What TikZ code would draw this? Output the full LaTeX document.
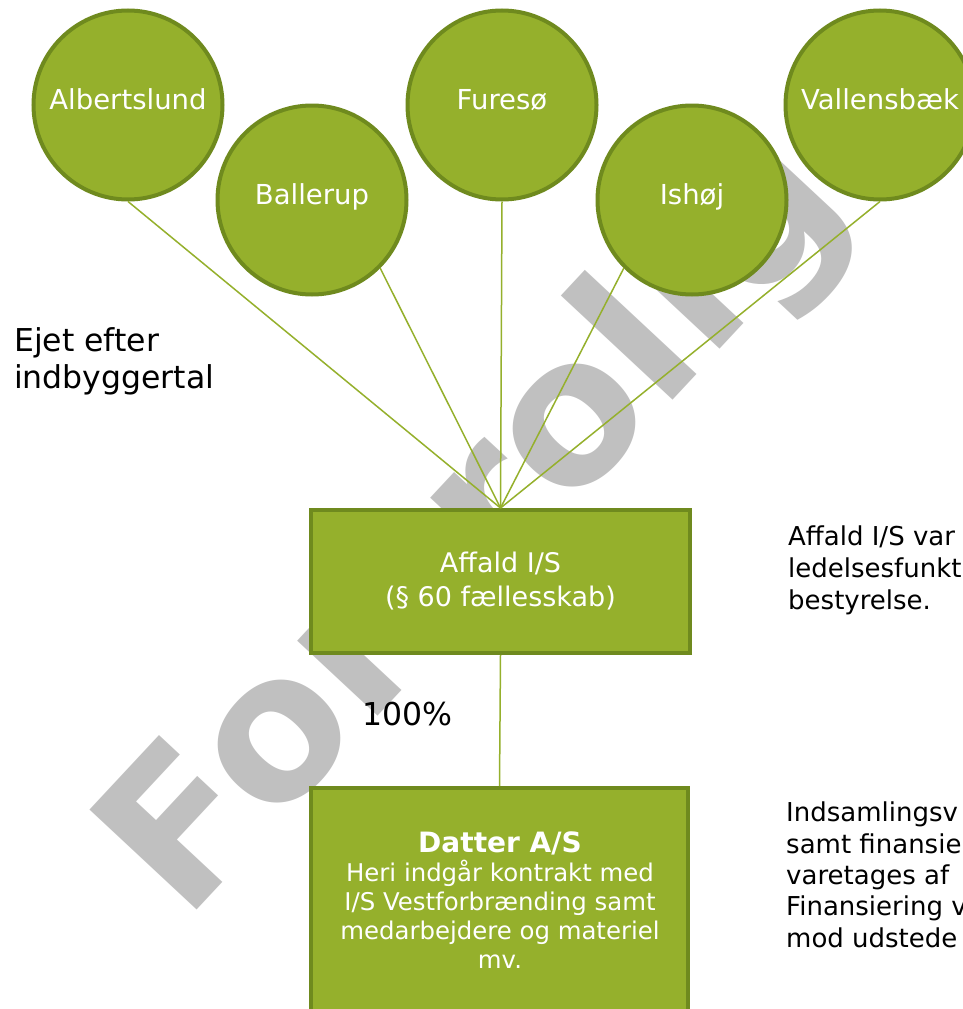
\documentclass[tikz,border=0pt]{standalone}
\usepackage{fontspec}
\setmainfont{DejaVu Sans}
\definecolor{gfill}{HTML}{95B02C}
\definecolor{gborder}{HTML}{6F8A1E}
\definecolor{gline}{HTML}{95B02C}
\definecolor{wmgray}{HTML}{C0C0C0}
\tikzset{
  town/.style={circle, draw=gborder, fill=gfill, line width=4pt, minimum size=189pt,
    inner sep=0pt, text=white, font=\fontsize{27.5}{33}\selectfont,
    text height=0.8em, text depth=0pt},
  orgbox/.style={rectangle, draw=gborder, fill=gfill, line width=4pt, inner sep=0pt,
    text=white, align=center},
  conn/.style={draw=gline, line width=1.5pt},
  plain/.style={inner sep=0pt, text=black, align=left},
  watermark/.style={inner sep=0pt, text=wmgray, font=\fontsize{201}{201}\selectfont\bfseries}
}
\begin{document}
\begin{tikzpicture}[x=1pt, y=-1pt]
\useasboundingbox (0,0) rectangle (963,1009);
\clip (0,0) rectangle (963,1009);
\fill[white] (0,0) rectangle (963,1009);

% watermark
\node[watermark, rotate=47, anchor=base west] (wm) at (184,924) {Fortrolig};

% municipalities
\node[town] (alb) at (128,105) {Albertslund};
\node[town] (bal) at (312,200) {Ballerup};
\node[town] (fur) at (502,105) {Furesø};
\node[town] (ish) at (692,200) {Ishøj};
\node[town] (val) at (880,105) {Vallensbæk};

% boxes
\node[orgbox, minimum width=379pt, minimum height=143pt, font=\fontsize{27}{34}\selectfont]
  (aff) at (500.5,581.5) {Affald I/S\\(§ 60 fællesskab)};
\node[orgbox, minimum width=377pt, minimum height=314pt, anchor=north] (dat) at (499.5,786) {};
\node[inner sep=0pt, text=white, align=center, anchor=north, font=\fontsize{24.4}{29}\selectfont]
  (datlbl) at (500,832) {{\fontsize{28}{29}\selectfont\bfseries Datter A/S}\\Heri indgår kontrakt med\\I/S Vestforbrænding samt\\medarbejdere og materiel\\mv.};

% side texts
\node[plain, anchor=north west, font=\fontsize{31.5}{37}\selectfont] (ejet) at (14,327) {Ejet efter\\indbyggertal};
\node[plain, anchor=base west, font=\fontsize{31.5}{37}\selectfont] (pct) at (362,725) {100\%};
\node[plain, anchor=north west, font=\fontsize{26}{32}\selectfont] (note1) at (788,526) {Affald I/S var\\ledelsesfunkt\\bestyrelse.};
\node[plain, anchor=north west, font=\fontsize{26}{31.3}\selectfont] (note2) at (786,802) {Indsamlingsv\\samt finansie\\varetages af\\Finansiering v\\mod udstede};

% connectors
\draw[conn] (alb.south) -- (aff.north);
\draw[conn] (bal.south east) -- (aff.north);
\draw[conn] (fur.south) -- (aff.north);
\draw[conn] (ish.south west) -- (aff.north);
\draw[conn] (val.south) -- (aff.north);
\draw[conn] (aff.south) -- (dat.north);
\end{tikzpicture}
\end{document}
